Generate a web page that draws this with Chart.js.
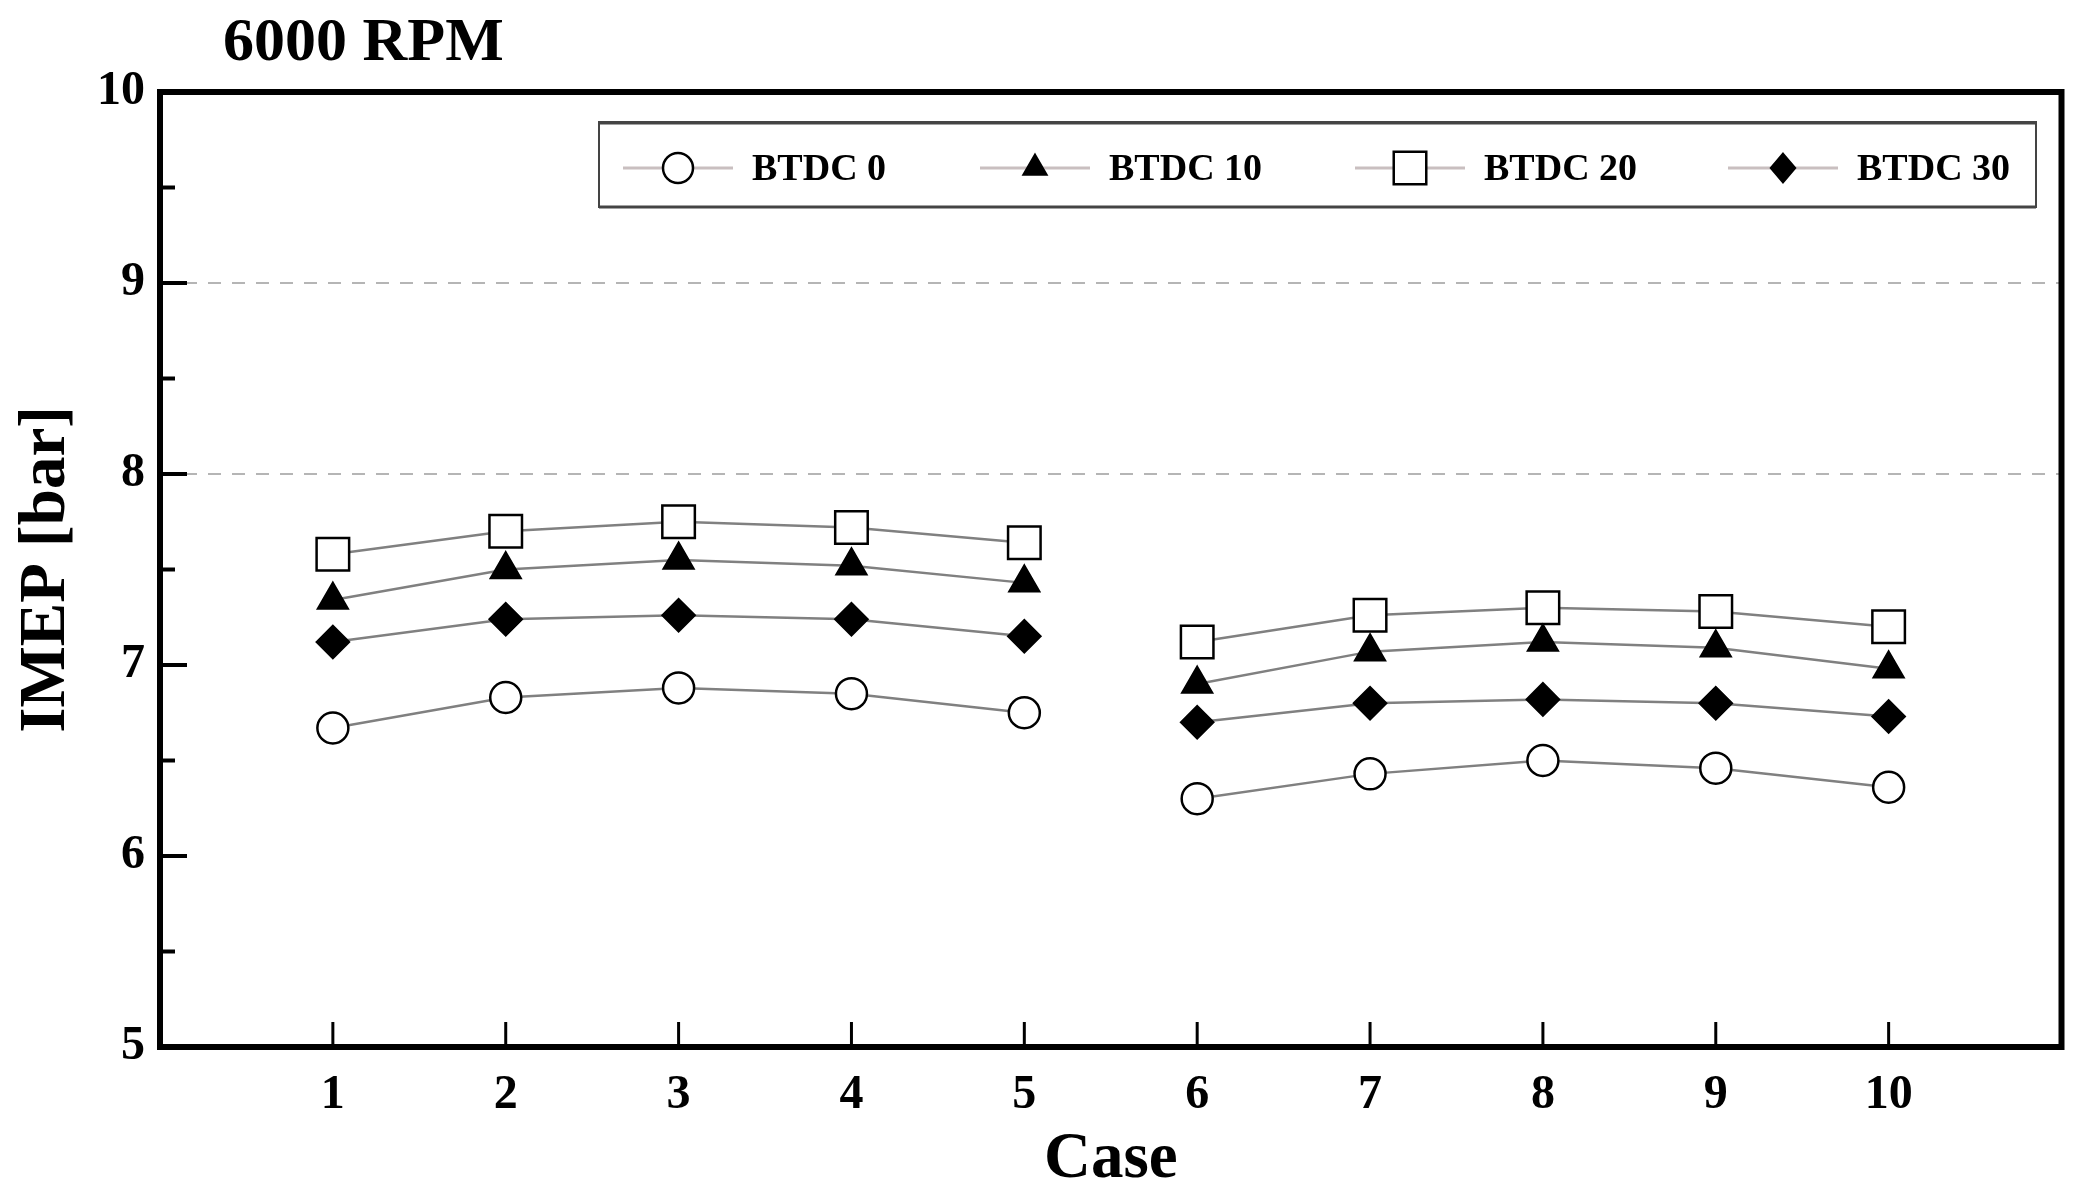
<!DOCTYPE html>
<html>
<head>
<meta charset="utf-8">
<script src="https://cdn.jsdelivr.net/npm/chart.js@4/dist/chart.umd.min.js"></script>
<style>
html,body{margin:0;padding:0;background:#fff;}
#wrap{width:2087px;height:1201px;position:relative;}
</style>
</head>
<body>
<div id="wrap"><canvas id="c" width="2087" height="1201"></canvas></div>
<script>
const chartTitle = '6000 RPM';
const xTitle = 'Case';
const yTitle = 'IMEP [bar]';
const cases = [1, 2, 3, 4, 5, 6, 7, 8, 9, 10];
const caseGroups = [1, 1, 1, 1, 1, 2, 2, 2, 2, 2];
const seriesNames = ['BTDC 0', 'BTDC 10', 'BTDC 20', 'BTDC 30'];
const btdc0  = [6.67, 6.83, 6.88, 6.85, 6.75, 6.30, 6.43, 6.50, 6.46, 6.36];
const btdc10 = [7.34, 7.50, 7.55, 7.52, 7.43, 6.90, 7.07, 7.12, 7.09, 6.98];
const btdc20 = [7.58, 7.70, 7.75, 7.72, 7.64, 7.12, 7.26, 7.30, 7.28, 7.20];
const btdc30 = [7.12, 7.24, 7.26, 7.24, 7.15, 6.70, 6.80, 6.82, 6.80, 6.73];
const yMin = 5, yMax = 10, xMin = 0, xMax = 11;
const yMajorTicks = [5, 6, 7, 8, 9, 10];
const yMinorTicks = [5.5, 6.5, 7.5, 8.5, 9.5];
const dashedGridValues = [8, 9];

const SERIF = "'Liberation Serif', 'Times New Roman', serif";
const seriesValues = [btdc0, btdc10, btdc20, btdc30];
const styles = [
  {pointStyle: 'circle', radius: 15.5, bg: '#ffffff'},
  {pointStyle: 'triangle', radius: 17, bg: '#000000'},
  {pointStyle: 'rect', radius: 23, bg: '#ffffff'},
  {pointStyle: 'rectRot', radius: 16, bg: '#000000'}
];

const datasets = seriesNames.map((name, i) => ({
  label: name,
  data: cases.map((c, j) => ({x: c, y: seriesValues[i][j]})),
  borderColor: '#808080',
  borderWidth: 2.5,
  segment: {
    borderColor: ctx => (caseGroups[ctx.p0DataIndex] !== caseGroups[ctx.p1DataIndex] ? 'rgba(0,0,0,0)' : undefined)
  },
  pointStyle: styles[i].pointStyle,
  pointRadius: styles[i].radius,
  pointHoverRadius: styles[i].radius,
  pointBackgroundColor: styles[i].bg,
  pointBorderColor: '#000000',
  pointBorderWidth: 2.5,
  tension: 0,
  fill: false
}));

function drawMarker(ctx, style, r, x, y, bg) {
  ctx.save();
  ctx.beginPath();
  if (style === 'circle') {
    ctx.arc(x, y, r, 0, Math.PI * 2);
  } else if (style === 'triangle') {
    ctx.moveTo(x, y - r);
    ctx.lineTo(x + r * Math.sin(2 * Math.PI / 3), y - r * Math.cos(2 * Math.PI / 3));
    ctx.lineTo(x + r * Math.sin(4 * Math.PI / 3), y - r * Math.cos(4 * Math.PI / 3));
    ctx.closePath();
  } else if (style === 'rect') {
    const s = r * Math.SQRT1_2;
    ctx.rect(x - s, y - s, 2 * s, 2 * s);
  } else if (style === 'rectRot') {
    ctx.moveTo(x, y - r); ctx.lineTo(x + r * 0.85, y); ctx.lineTo(x, y + r); ctx.lineTo(x - r * 0.85, y); ctx.closePath();
  }
  ctx.fillStyle = bg;
  ctx.fill();
  ctx.lineWidth = 2.5;
  ctx.strokeStyle = '#000';
  ctx.stroke();
  ctx.restore();
}

const framePlugin = {
  id: 'frame',
  afterDraw(chart) {
    const ctx = chart.ctx;
    const a = chart.chartArea;
    const xs = chart.scales.x, ys = chart.scales.y;
    ctx.save();
    ctx.strokeStyle = '#000';
    ctx.lineWidth = 4;
    yMajorTicks.forEach(v => {
      const py = ys.getPixelForValue(v);
      ctx.beginPath(); ctx.moveTo(a.left, py); ctx.lineTo(a.left + 27, py); ctx.stroke();
    });
    yMinorTicks.forEach(v => {
      const py = ys.getPixelForValue(v);
      ctx.beginPath(); ctx.moveTo(a.left, py); ctx.lineTo(a.left + 15, py); ctx.stroke();
    });
    ctx.lineWidth = 3;
    cases.forEach(c => {
      const px = xs.getPixelForValue(c);
      ctx.beginPath(); ctx.moveTo(px, a.bottom); ctx.lineTo(px, a.bottom - 25); ctx.stroke();
    });
    ctx.lineWidth = 6;
    ctx.strokeRect(a.left, a.top, a.right - a.left, a.bottom - a.top);
    ctx.fillStyle = '#000';
    ctx.font = 'bold 62px ' + SERIF;
    ctx.textBaseline = 'alphabetic';
    ctx.textAlign = 'left';
    ctx.fillText(chartTitle, 223, 60);
    const lx = 599, ly = 122, lw = 1437, lh = 85;
    ctx.fillStyle = '#fff';
    ctx.fillRect(lx, ly, lw, lh);
    ctx.strokeStyle = '#444';
    ctx.lineWidth = 2;
    ctx.strokeRect(lx, ly, lw, lh);
    ctx.lineWidth = 3;
    ctx.beginPath(); ctx.moveTo(lx, ly + 1); ctx.lineTo(lx + lw, ly + 1); ctx.moveTo(lx, ly + lh); ctx.lineTo(lx + lw, ly + lh); ctx.stroke();
    const itemX = [623, 980, 1355, 1728];
    const cy = 168;
    const legendR = [15, 13, 23, 14];
    chart.data.datasets.forEach((ds, i) => {
      const x0 = itemX[i];
      ctx.strokeStyle = '#c9bfc0';
      ctx.lineWidth = 3;
      ctx.beginPath(); ctx.moveTo(x0, cy); ctx.lineTo(x0 + 110, cy); ctx.stroke();
      drawMarker(ctx, ds.pointStyle, legendR[i], x0 + 55, cy, ds.pointBackgroundColor);
      ctx.fillStyle = '#000';
      ctx.font = 'bold 38px ' + SERIF;
      ctx.textBaseline = 'middle';
      ctx.fillText(ds.label, x0 + 129, cy + 2);
    });
    ctx.restore();
  }
};

new Chart(document.getElementById('c'), {
  type: 'line',
  data: {datasets},
  plugins: [framePlugin],
  options: {
    responsive: false,
    animation: false,
    devicePixelRatio: 1,
    layout: {padding: {top: 92, right: 13, left: 0, bottom: 0}},
    plugins: {legend: {display: false}, tooltip: {enabled: false}, title: {display: false}},
    scales: {
      x: {
        type: 'linear', min: xMin, max: xMax,
        afterFit(s) { s.height = 154; },
        grid: {display: false, drawTicks: false},
        border: {display: false},
        ticks: {
          stepSize: 1, autoSkip: false, padding: 20, color: '#000',
          font: {family: SERIF, size: 48, weight: 'bold'},
          callback: v => (cases.includes(v) ? String(v) : '')
        },
        title: {display: true, text: xTitle, color: '#000', font: {family: SERIF, size: 65, weight: 'bold'}, padding: {top: 0, bottom: 2}}
      },
      y: {
        type: 'linear', min: yMin, max: yMax,
        afterFit(s) { s.width = 160; },
        grid: {
          drawTicks: false,
          color: ctx => (dashedGridValues.includes(ctx.tick && ctx.tick.value) ? '#b5b5b5' : 'rgba(0,0,0,0)'),
          lineWidth: 2
        },
        border: {display: false, dash: [13, 11]},
        ticks: {
          stepSize: 1, padding: 15, color: '#000',
          font: {family: SERIF, size: 48, weight: 'bold'}
        },
        title: {display: true, text: yTitle, color: '#000', font: {family: SERIF, size: 65, weight: 'bold'}, padding: {top: 8, bottom: 0}}
      }
    }
  }
});
</script>
</body>
</html>
